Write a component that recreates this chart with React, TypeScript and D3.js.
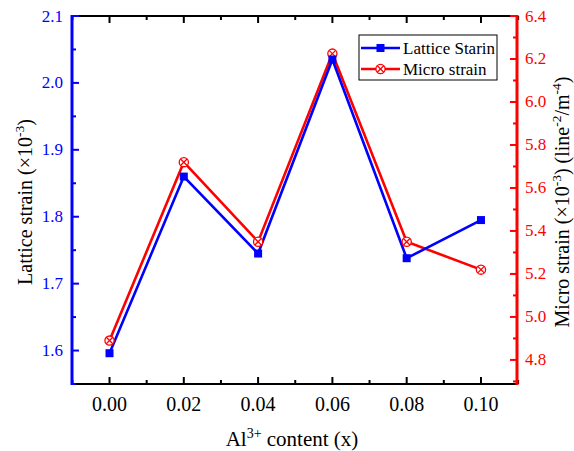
import React from "react";
import * as d3 from "d3";

// Al3+ content (x) and the two strain series
const alContent = [0.0, 0.02, 0.04, 0.06, 0.08, 0.1];
const latticeStrain = [1.596, 1.86, 1.745, 2.035, 1.738, 1.795];
const microStrain = [4.89, 5.72, 5.35, 6.225, 5.35, 5.22];

const xTicks = [0.0, 0.02, 0.04, 0.06, 0.08, 0.1];
const leftTicks = [1.6, 1.7, 1.8, 1.9, 2.0, 2.1];
const rightTicks = [4.8, 5.0, 5.2, 5.4, 5.6, 5.8, 6.0, 6.2, 6.4];

const W = 574;
const H = 451;
const m = { left: 72, right: 517, top: 16, bottom: 384 };

const BLUE = "#0000ff";
const RED = "#ff0000";
const FONT = "Liberation Serif, Times New Roman, DejaVu Serif, serif";

export default function App() {
  const x = d3.scaleLinear().domain([-0.0101, 0.1097]).range([m.left, m.right]);
  const yL = d3.scaleLinear().domain([1.55, 2.1]).range([m.bottom, m.top]);
  const yR = d3.scaleLinear().domain([4.688, 6.4]).range([m.bottom, m.top]);

  const latticePts = alContent.map((v, i) => [x(v), yL(latticeStrain[i])] as [number, number]);
  const microPts = alContent.map((v, i) => [x(v), yR(microStrain[i])] as [number, number]);
  const line = d3.line();

  const xMinor = d3.range(-0.01, 0.111, 0.01).filter((v) => Math.abs(Math.round(v * 100) % 2) === 1);
  const leftMinor = d3.range(1.55, 2.1, 0.1).map((v) => +v.toFixed(2));
  const rightMinor = d3.range(4.7, 6.4, 0.2).map((v) => +v.toFixed(1));

  const crossMarker = (cx: number, cy: number, key: string | number) => {
    const r = 4.6;
    const d = r * Math.SQRT1_2;
    return (
      <g key={key}>
        <circle cx={cx} cy={cy} r={r} fill="white" stroke={RED} strokeWidth={1.3} />
        <line x1={cx - d} y1={cy - d} x2={cx + d} y2={cy + d} stroke={RED} strokeWidth={1.3} />
        <line x1={cx - d} y1={cy + d} x2={cx + d} y2={cy - d} stroke={RED} strokeWidth={1.3} />
      </g>
    );
  };

  return (
    <svg width={W} height={H} style={{ position: "absolute", left: 0, top: 0, background: "white", fontFamily: FONT }}>
      {/* data lines */}
      <path d={line(microPts) || ""} fill="none" stroke={RED} strokeWidth={2.6} />
      <path d={line(latticePts) || ""} fill="none" stroke={BLUE} strokeWidth={2.6} />
      {microPts.map((p, i) => crossMarker(p[0], p[1], i))}
      {latticePts.map((p, i) => (
        <rect key={i} x={p[0] - 4} y={p[1] - 4} width={8} height={8} fill={BLUE} />
      ))}

      {/* top and bottom frame with inward ticks */}
      <line x1={m.left} x2={m.right} y1={m.top} y2={m.top} stroke="black" strokeWidth={2.2} />
      <line x1={m.left} x2={m.right} y1={m.bottom} y2={m.bottom} stroke="black" strokeWidth={2.2} />
      {xTicks.map((t) => (
        <g key={t}>
          <line x1={x(t)} x2={x(t)} y1={m.top} y2={m.top + 7} stroke="black" strokeWidth={2} />
          <line x1={x(t)} x2={x(t)} y1={m.bottom} y2={m.bottom - 7} stroke="black" strokeWidth={2} />
          <text x={x(t)} y={411} textAnchor="middle" fontSize={20} fill="black">
            {t.toFixed(2)}
          </text>
        </g>
      ))}
      {xMinor.map((t, i) => (
        <g key={"mx" + i}>
          <line x1={x(t)} x2={x(t)} y1={m.top} y2={m.top + 4} stroke="black" strokeWidth={2} />
          <line x1={x(t)} x2={x(t)} y1={m.bottom} y2={m.bottom - 4} stroke="black" strokeWidth={2} />
        </g>
      ))}

      {/* left axis */}
      <line x1={m.left} x2={m.left} y1={m.top - 1} y2={m.bottom + 1} stroke={BLUE} strokeWidth={3} />
      {leftTicks.map((t) => (
        <g key={t}>
          <line x1={m.left} x2={m.left + 7} y1={yL(t)} y2={yL(t)} stroke={BLUE} strokeWidth={2} />
          <text x={m.left - 9} y={yL(t) + 5.5} textAnchor="end" fontSize={17} fill={BLUE}>
            {t.toFixed(1)}
          </text>
        </g>
      ))}
      {leftMinor.map((t) => (
        <line key={"ml" + t} x1={m.left} x2={m.left + 4} y1={yL(t)} y2={yL(t)} stroke={BLUE} strokeWidth={2} />
      ))}

      {/* right axis */}
      <line x1={m.right} x2={m.right} y1={m.top - 1} y2={m.bottom + 1} stroke={RED} strokeWidth={3} />
      {rightTicks.map((t) => (
        <g key={t}>
          <line x1={m.right} x2={m.right - 7} y1={yR(t)} y2={yR(t)} stroke={RED} strokeWidth={2} />
          <text x={m.right + 8} y={yR(t) + 5.5} textAnchor="start" fontSize={17} fill={RED}>
            {t.toFixed(1)}
          </text>
        </g>
      ))}
      {rightMinor.map((t) => (
        <line key={"mr" + t} x1={m.right} x2={m.right - 4} y1={yR(t)} y2={yR(t)} stroke={RED} strokeWidth={2} />
      ))}

      {/* axis titles */}
      <text x={292} y={446} textAnchor="middle" fontSize={21} fill="black">
        Al<tspan dy={-8} fontSize={14}>3+</tspan>
        <tspan dy={8}> content (x)</tspan>
      </text>
      <text transform={`translate(32,202) rotate(-90)`} textAnchor="middle" fontSize={20} fill="black">
        Lattice strain (×10<tspan dy={-8} fontSize={13.5}>-3</tspan>
        <tspan dy={8}>)</tspan>
      </text>
      <text transform={`translate(569,202) rotate(-90)`} textAnchor="middle" fontSize={20} fill="black">
        Micro strain (×10<tspan dy={-8} fontSize={13.5}>-3</tspan>
        <tspan dy={8}>) (line</tspan>
        <tspan dy={-8} fontSize={13.5}>-2</tspan>
        <tspan dy={8}>/m</tspan>
        <tspan dy={-8} fontSize={13.5}>-4</tspan>
        <tspan dy={8}>)</tspan>
      </text>

      {/* legend */}
      <rect x={359} y={35} width={138} height={45} fill="white" stroke="black" strokeWidth={1} />
      <line x1={361} x2={400} y1={48} y2={48} stroke={BLUE} strokeWidth={2.6} />
      <rect x={376.5} y={44} width={8} height={8} fill={BLUE} />
      <text x={403} y={54} fontSize={17} fill="black">Lattice Starin</text>
      <line x1={361} x2={400} y1={69} y2={69} stroke={RED} strokeWidth={2.6} />
      {crossMarker(380.5, 69, "leg")}
      <text x={403} y={75} fontSize={17} fill="black">Micro strain</text>
    </svg>
  );
}
